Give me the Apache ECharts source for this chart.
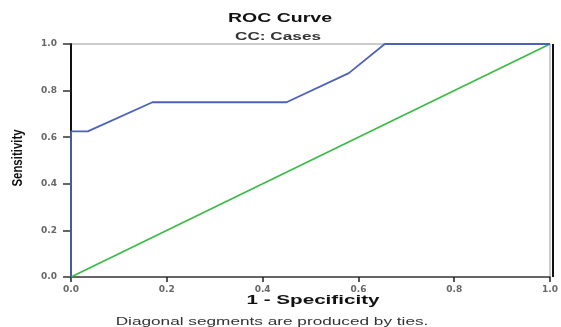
<!DOCTYPE html>
<html><head><meta charset="utf-8">
<script src="https://cdn.jsdelivr.net/npm/echarts@6/dist/echarts.min.js"></script>
<style>html,body{margin:0;padding:0;background:#fff}#c{width:561px;height:327px}</style>
</head><body><div id="c"></div>
<script>
var rocX = [0, 0, 0.035, 0.17, 0.45, 0.58, 0.655, 1.0];
var rocY = [0, 0.625, 0.625, 0.75, 0.75, 0.875, 1.0, 1.0];
var refX = [0, 1];
var refY = [0, 1];
var tickLabels = ['0.0', '0.2', '0.4', '0.6', '0.8', '1.0'];
var titleText = 'ROC Curve';
var subtitleText = 'CC: Cases';
var xName = '1 - Specificity';
var yName = 'Sensitivity';
var footText = 'Diagonal segments are produced by ties.';

function pairs(xs, ys){ return xs.map(function(x,i){ return [x, ys[i]]; }); }
var chart = echarts.init(document.getElementById('c'));
var FF = 'Liberation Sans, Arial, sans-serif';
var lblStyle = {color:'#666', fontFamily:'DejaVu Sans, sans-serif', fontSize:9, fontWeight:'bold'};
function txt(t, x, y, size, weight, sx, color, sy, rot){
  return {type:'text', x:x, y:y, scaleX:sx, scaleY:sy||1, rotation:rot||0, z:10,
    style:{text:t, fill:color||'#222', font: weight + ' ' + size + 'px ' + FF, textAlign:'center', textVerticalAlign:'middle'}};
}
chart.setOption({
  animation:false,
  grid:{left:71, right:8, top:44, bottom:50, show:true, borderColor:'#999', borderWidth:1},
  xAxis:{type:'value', min:0, max:1, interval:0.2,
    axisLine:{lineStyle:{color:'#444', width:1.5}},
    axisTick:{show:true, length:5, lineStyle:{color:'#222', width:1.5}},
    axisLabel:Object.assign({margin:8, formatter:function(v){return tickLabels[Math.round(v*5)];}}, lblStyle),
    splitLine:{show:false}},
  yAxis:{type:'value', min:0, max:1, interval:0.2,
    axisLine:{lineStyle:{color:'#111', width:2}},
    axisTick:{show:true, length:8, lineStyle:{color:'#333', width:1.5}},
    axisLabel:Object.assign({margin:14, formatter:function(v){return tickLabels[Math.round(v*5)];}}, lblStyle),
    splitLine:{show:false}},
  graphic:[
    {type:'line', shape:{x1:553, y1:44, x2:553, y2:277}, style:{stroke:'#111', lineWidth:2}},
    txt(titleText, 280, 18, 13, 'bold', 1.5, '#111'),
    txt(subtitleText, 278, 37, 10, 'bold', 1.72, '#333'),
    txt(xName, 313, 301, 12, 'bold', 1.72, '#111'),
    txt(footText, 272, 322, 10, 'normal', 1.72, '#333'),
    txt(yName, 18, 158, 13, 'bold', 0.88, '#111', 1.15, Math.PI/2)
  ],
  series:[
    {type:'line', data:pairs(rocX, rocY), symbol:'none', lineStyle:{color:'#4d62b6', width:1.8}, z:3},
    {type:'line', data:pairs(refX, refY), symbol:'none', lineStyle:{color:'#3dbb48', width:1.8}, z:2}
  ]
});
</script></body></html>
